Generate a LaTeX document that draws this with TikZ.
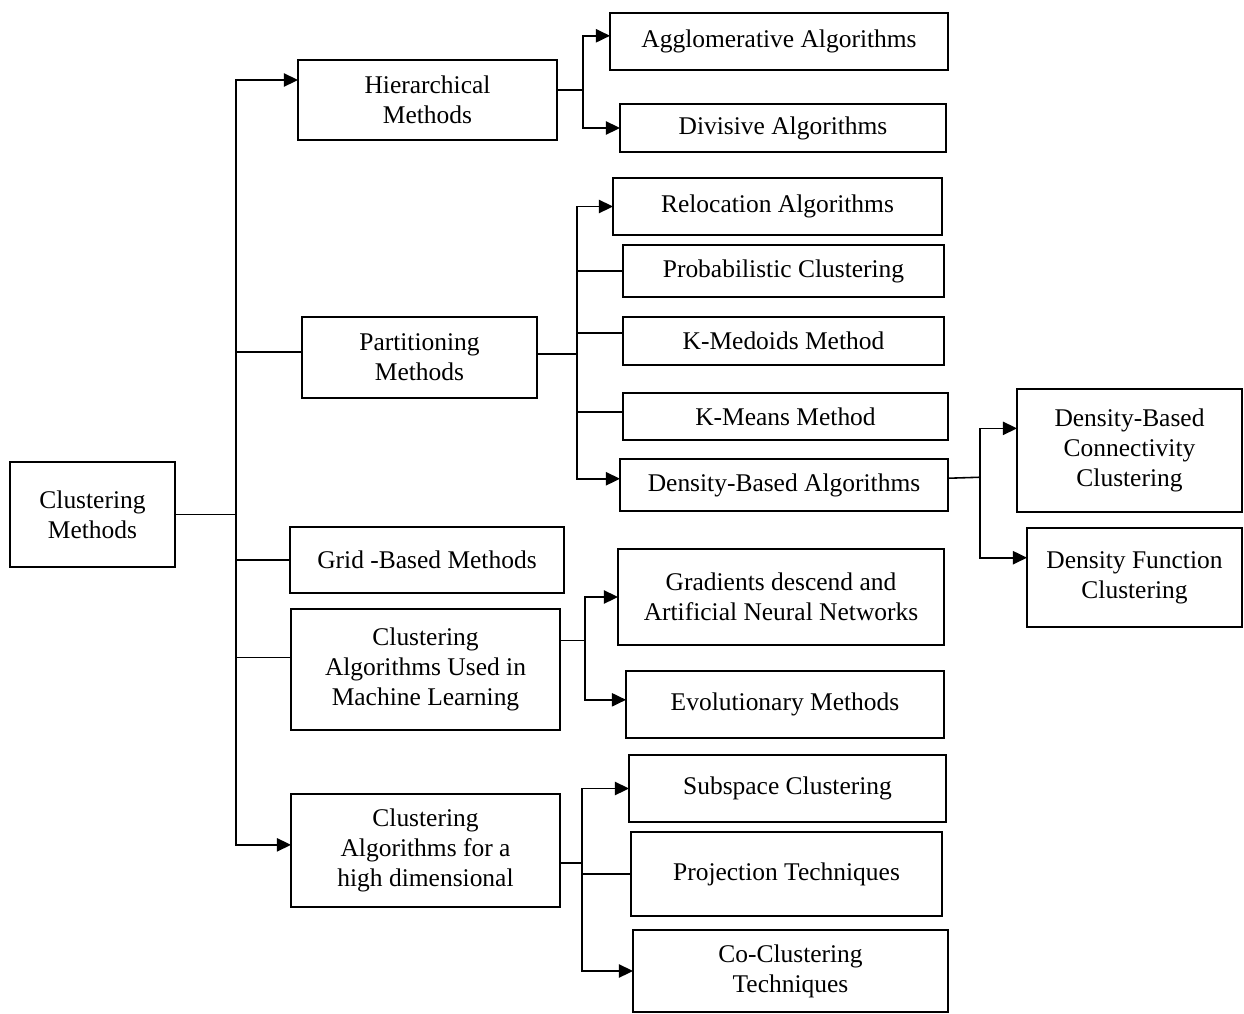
\documentclass[tikz,border=0pt]{standalone}
\usepackage{fontspec}
\setmainfont{Liberation Serif}
\usetikzlibrary{calc,arrows.meta}
\tikzset{>={Triangle[length=8pt,width=7.5pt]}}

\begin{document}
\begin{tikzpicture}[x=0.02cm,y=-0.02cm,
  box/.style={draw,line width=0.8pt,align=center,inner sep=0pt,outer sep=0pt,
    font=\fontsize{14.5}{17}\selectfont},
  link/.style={line width=0.9pt},
  every text node part/.style={align=center}]
\useasboundingbox (0,0) rectangle (1244,1014);

% left column
\node[box,minimum width=3.3cm,minimum height=2.1cm] (root) at (92.5,514.5) {Clustering\\Methods};
\node[box,minimum width=5.18cm,minimum height=1.6cm] (hier) at (427.5,100) {Hierarchical\\Methods};
\node[box,minimum width=4.7cm,minimum height=1.62cm] (part) at (419.5,357.5) {Partitioning\\Methods};
\node[box,minimum width=5.48cm,minimum height=1.32cm] (grid) at (427,560) {Grid -Based Methods};
\node[box,minimum width=5.38cm,minimum height=2.42cm] (mlearn) at (425.5,669.5) {Clustering\\Algorithms Used in\\Machine Learning};
\node[box,minimum width=5.38cm,minimum height=2.26cm] (hidim) at (425.5,850.5) {Clustering\\Algorithms for a\\high dimensional};

% right column
\node[box,minimum width=6.76cm,minimum height=1.14cm] (aggl) at (779,41.5) {Agglomerative Algorithms};
\node[box,minimum width=6.52cm,minimum height=0.96cm] (divis) at (783,128) {Divisive Algorithms};
\node[box,minimum width=6.58cm,minimum height=1.14cm] (reloc) at (777.5,206.5) {Relocation Algorithms};
\node[box,minimum width=6.42cm,minimum height=1.04cm] (prob) at (783.5,271) {Probabilistic Clustering};
\node[box,minimum width=6.42cm,minimum height=0.96cm] (kmed) at (783.5,341) {K-Medoids Method};
\node[box,minimum width=6.5cm,minimum height=0.94cm] (kmeans) at (785.5,416.5) {K-Means Method};
\node[box,minimum width=6.56cm,minimum height=1.04cm] (dens) at (784,485) {Density-Based Algorithms};
\node[box,minimum width=6.52cm,minimum height=1.92cm] (grad) at (781,597) {Gradients descend and\\Artificial Neural Networks};
\node[box,minimum width=6.36cm,minimum height=1.34cm] (evol) at (785,704.5) {Evolutionary Methods};
\node[box,minimum width=6.34cm,minimum height=1.34cm] (subsp) at (787.5,788.5) {Subspace Clustering};
\node[box,minimum width=6.22cm,minimum height=1.68cm] (proj) at (786.5,874) {Projection Techniques};
\node[box,minimum width=6.3cm,minimum height=1.64cm] (cocl) at (790.5,971) {Co-Clustering\\Techniques};

% far right
\node[box,minimum width=4.5cm,minimum height=2.46cm] (dbcc) at (1129.5,450.5) {Density-Based\\Connectivity\\Clustering};
\node[box,minimum width=4.3cm,minimum height=1.98cm] (dfc) at (1134.5,577.5) {Density Function\\Clustering};

% trunk
\draw[link] (root.east) -- ++(61,0) coordinate (jroot);
\draw[link,->] (jroot) |- ($(hier.north west)!0.25!(hier.south west)$);
\draw[link] (jroot) |- ($(part.north west)!0.43!(part.south west)$);
\draw[link] (jroot) |- (grid.west);
\draw[link] (jroot) |- ($(mlearn.north west)!0.4!(mlearn.south west)$);
\draw[link,->] (jroot) |- ($(hidim.north west)!0.45!(hidim.south west)$);

% hierarchical
\draw[link] ($(hier.north east)!0.375!(hier.south east)$) -- ++(26,0) coordinate (jhier);
\draw[link,->] (jhier) |- ($(aggl.north west)!0.4!(aggl.south west)$);
\draw[link,->] (jhier) |- (divis.west);

% partitioning
\draw[link] ($(part.north east)!0.46!(part.south east)$) -- ++(40,0) coordinate (jpart);
\draw[link,->] (jpart) |- (reloc.west);
\draw[link] (jpart) |- (prob.west);
\draw[link] (jpart) |- ($(kmed.north west)!0.33!(kmed.south west)$);
\draw[link] (jpart) |- ($(kmeans.north west)!0.4!(kmeans.south west)$);
\draw[link,->] (jpart) |- ($(dens.north west)!0.38!(dens.south west)$);

% density based
\draw[link] ($(dens.north east)!0.37!(dens.south east)$) -- ++(32,-1) coordinate (jdens);
\draw[link,->] (jdens) |- ($(dbcc.north west)!0.32!(dbcc.south west)$);
\draw[link,->] (jdens) |- ($(dfc.north west)!0.3!(dfc.south west)$);

% machine learning
\draw[link] ($(mlearn.north east)!0.26!(mlearn.south east)$) -- ++(25,0) coordinate (jml);
\draw[link,->] (jml) |- (grad.west);
\draw[link,->] (jml) |- ($(evol.north west)!0.43!(evol.south west)$);

% high dimensional
\draw[link] ($(hidim.north east)!0.61!(hidim.south east)$) -- ++(22,0) coordinate (jhd);
\draw[link,->] (jhd) |- (subsp.west);
\draw[link] (jhd) |- (proj.west);
\draw[link,->] (jhd) |- (cocl.west);
\end{tikzpicture}
\end{document}
